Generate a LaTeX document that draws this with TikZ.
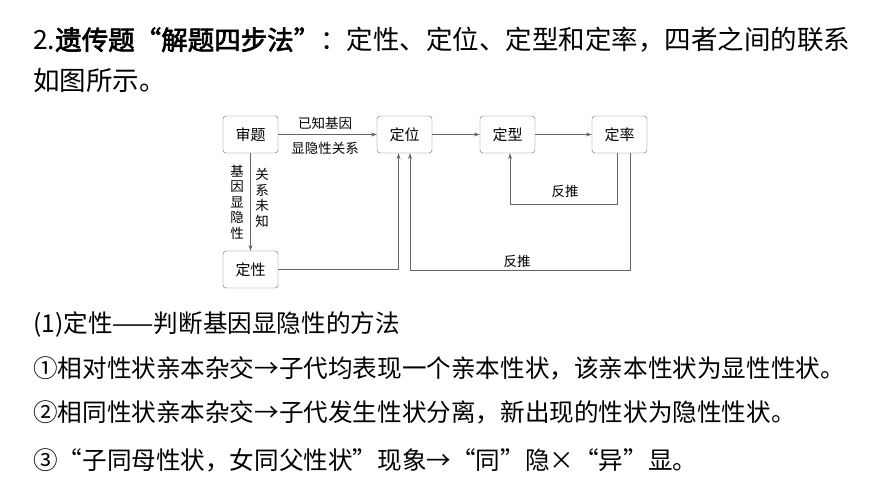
\documentclass[tikz,border=0pt]{standalone}
\usepackage{fontspec}
\setmainfont{Noto Sans CJK SC}[AutoFakeBold=2.5]
\usetikzlibrary{arrows.meta}
\tikzset{
  stage/.style={draw=black!60, rounded corners=3pt, minimum width=55pt, minimum height=37pt, font=\fontsize{15}{15}\selectfont, inner sep=0pt},
  link/.style={draw=black!60, line width=0.8pt, -{Stealth[length=6pt,width=4pt]}},
  tag/.style={font=\fontsize{13.5}{14}\selectfont, inner sep=1pt},
  body/.style={anchor=west, font=\fontsize{24.6}{24}\selectfont, inner sep=0pt}
}
\begin{document}
\begin{tikzpicture}[x=1pt, y=-1pt]
\useasboundingbox (0,0) rectangle (870,489);

% the text around the diagram
\node[body, font=\fontsize{26.5}{26}\selectfont] (title) at (33,40) {2.\textbf{遗传题“解题四步法”}：定性、定位、定型和定率，四者之间的联系};
\node[body, font=\fontsize{26.5}{26}\selectfont] (title2) at (33,80) {如图所示。};
\node[body] (s1) at (33,324) {(1)定性——判断基因显隐性的方法};
\node[body] (s2) at (33,368) {①相对性状亲本杂交→子代均表现一个亲本性状，该亲本性状为显性性状。};
\node[body] (s3) at (33,412) {②相同性状亲本杂交→子代发生性状分离，新出现的性状为隐性性状。};
\node[body] (s4) at (33,460) {③“子同母性状，女同父性状”现象→“同”隐×“异”显。};

% the four steps
\node[stage] (shen) at (250.5,134.5) {审题};
\node[stage] (wei) at (404.5,134.5) {定位};
\node[stage] (xing) at (507.5,134.5) {定型};
\node[stage] (lv) at (619.5,134.5) {定率};
\node[stage] (dx) at (250.5,269.5) {定性};

\draw[link] (shen) -- (wei);
\node[tag] (known) at (325,123) {已知基因};
\node[tag] (rel) at (325,148) {显隐性关系};
\draw[link] (wei) -- (xing);
\draw[link] (xing) -- (lv);
\draw[link] (shen) -- (dx);
\node[tag, align=center, font=\fontsize{13.5}{15.5}\selectfont] (gene) at (237,202) {基\\因\\显\\隐\\性};
\node[tag, align=center, font=\fontsize{13.5}{15.5}\selectfont] (unk) at (262,198) {关\\系\\未\\知};
\coordinate (c1) at (510,204);
\coordinate (c2) at (410,270);
\draw[link] (dx.east) -| ([xshift=-6pt]wei.south);
\draw[link] ([xshift=-2pt]lv.south) |- (c1) -- (c1 |- xing.south);
\draw[link] ([xshift=11pt]lv.south) |- (c2) -- (c2 |- wei.south);
\node[tag] (back1) at (565,191) {反推};
\node[tag] (back2) at (517,261) {反推};
\end{tikzpicture}
\end{document}
